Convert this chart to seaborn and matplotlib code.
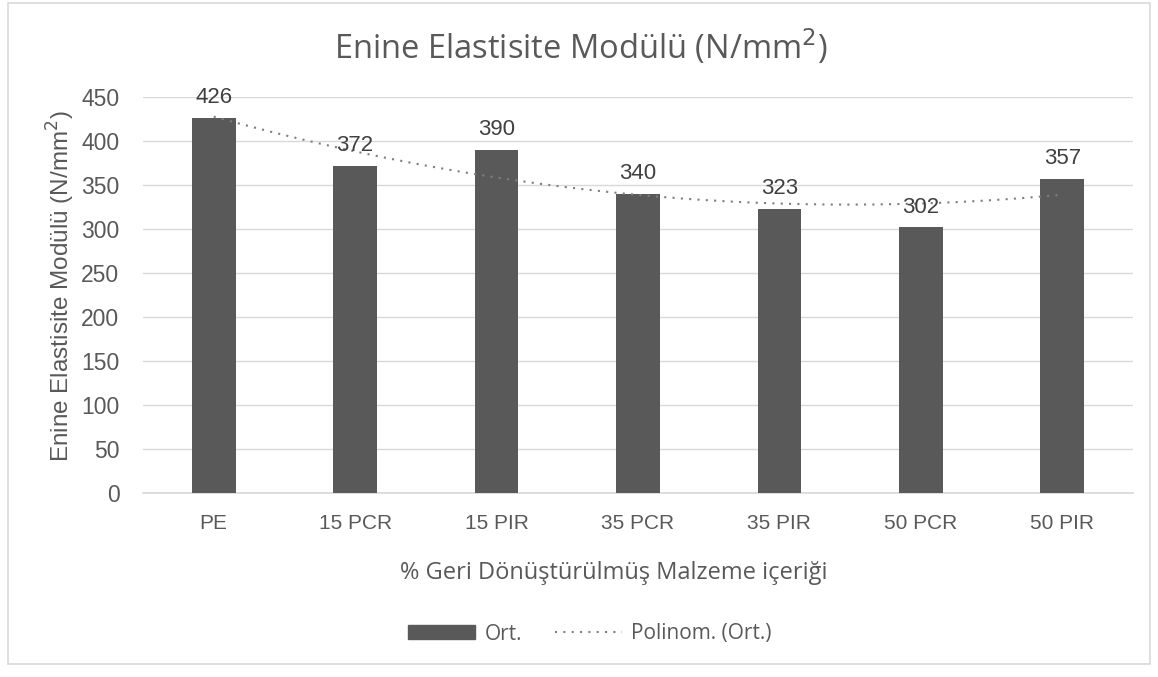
import numpy as np
import pandas as pd
import matplotlib
matplotlib.use("Agg")
import matplotlib.pyplot as plt
import seaborn as sns
from matplotlib.patches import Rectangle
from matplotlib.lines import Line2D

categories = ["PE", "15 PCR", "15 PIR", "35 PCR", "35 PIR", "50 PCR", "50 PIR"]
values = [426, 372, 390, 340, 323, 302, 357]
yticks = [0, 50, 100, 150, 200, 250, 300, 350, 400, 450]

sns.set_theme(style="white")
plt.rcParams["font.family"] = ["Liberation Sans", "DejaVu Sans"]
HEAD_FONT = ["Open Sans", "DejaVu Sans"]

TXT = "#595959"
BAR = "#595959"
GRID = "#d9d9d9"
TREND = "#7f7f7f"
DOTS = (0, (1, 3))

W, H = 1158, 677
df = pd.DataFrame({"cat": categories, "val": values})

fig = plt.figure(figsize=(W / 100, H / 100), dpi=100)
ax = fig.add_axes([143 / W, 1 - 493 / H, (1133 - 143) / W, (493 - 97) / H])

# outer chart border
fig.patches.append(Rectangle((8 / W, 1 - 664 / H), (1150 - 8) / W, (664 - 3) / H,
                             transform=fig.transFigure, fill=False, edgecolor=GRID, lw=1.2))

sns.barplot(data=df, x="cat", y="val", color=BAR, width=0.31, ax=ax,
            saturation=1, zorder=3, edgecolor="none")

# second-order polynomial trendline through the bar means
xs = np.arange(len(values))
coef = np.polyfit(xs, values, 2)
xf = np.linspace(0, len(values) - 1, 200)
ax.plot(xf, np.polyval(coef, xf), color=TREND, lw=1.5, ls=DOTS, zorder=4)

for i, v in enumerate(values):
    ax.text(i, v + 11, f"{v}", ha="center", va="bottom", fontsize=16, color="#404040", zorder=5)

ax.set_ylim(0, 450)
ax.set_xlim(-0.5, len(values) - 0.5)
ax.set_yticks(yticks)
ax.set_yticklabels([str(t) for t in yticks])
ax.yaxis.grid(True, color=GRID, lw=1, zorder=0)
for s in ["top", "right", "left"]:
    ax.spines[s].set_visible(False)
ax.spines["bottom"].set_color(GRID)
ax.tick_params(axis="both", length=0, colors=TXT)
ax.tick_params(axis="y", pad=17, labelsize=16.5)
ax.tick_params(axis="x", pad=15, labelsize=15)

ax.set_xlabel("% Geri Dönüştürülmüş Malzeme içeriği", fontsize=17, color=TXT, va="center",
              family=HEAD_FONT)
ax.xaxis.set_label_coords((614 - 143) / 990, (493 - 573) / 396)
ax.set_ylabel("Enine Elastisite Modülü (N/mm$^2$)", fontsize=17.5, color=TXT, va="center")
ax.yaxis.set_label_coords((61 - 143) / 990, (493 - 286) / 396)

fig.text(581 / W, 1 - 47 / H, "Enine Elastisite Modülü (N/mm$^2$)", ha="center", va="center",
         fontsize=23.5, color=TXT, family=HEAD_FONT)

handles = [Rectangle((0, 0), 1, 1, color=BAR),
           Line2D([0], [0], color=TREND, lw=1.5, ls=DOTS)]
fig.legend(handles, ["Ort.", "Polinom. (Ort.)"], loc="center", bbox_to_anchor=(590 / W, 1 - 634 / H),
           ncol=2, frameon=False, labelcolor=TXT, handlelength=3.2,
           handleheight=0.65, handletextpad=0.45, columnspacing=1.6,
           prop={"family": HEAD_FONT, "size": 15})

fig.savefig("out.png", dpi=100, facecolor="white")
